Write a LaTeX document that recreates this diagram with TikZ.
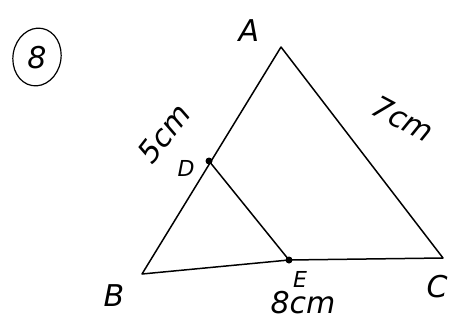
\documentclass[tikz,border=0pt]{standalone}
\usepackage{fontspec}
\setmainfont{DejaVu Sans}
\begin{document}
\begin{tikzpicture}[x=1pt,y=-1pt,
  edge/.style={line width=1.5pt,line join=round,line cap=round},
  lbl/.style={font=\fontsize{30}{32}\selectfont\itshape,inner sep=1pt},
  small/.style={font=\fontsize{22}{24}\selectfont\itshape,inner sep=1pt},
  dot/.style={circle,fill=black,inner sep=0pt,minimum size=7pt}]
\useasboundingbox (0,0) rectangle (453,322);
\coordinate (A) at (281,47);
\coordinate (B) at (142,274);
\coordinate (C) at (443,258);
\coordinate (D) at (209,161);
\coordinate (E) at (289,260);
\draw[edge] (A) -- (B) -- (E) -- (C) -- cycle;
\draw[edge] (D) -- (E);
\node[dot] (Dd) at (D) {};
\node[dot] (Ed) at (E) {};
\node[lbl] (la) at (249,31) {A};
\node[lbl] (lb) at (114,296) {B};
\node[lbl] (lc) at (437,287) {C};
\node[small] (ld) at (186,168) {D};
\node[small] (le) at (300,279) {E};
\node[lbl] (l8) at (303,303) {8cm};
\node[lbl,rotate=52] (l5) at (164,133) {5cm};
\node[lbl,rotate=-28] (l7) at (403,119) {7cm};
\draw[line width=1.2pt,rotate around={-10:(37,57)}] (37,57) ellipse (24 and 29);
\node[lbl] (n8) at (37,58) {8};
\end{tikzpicture}
\end{document}
